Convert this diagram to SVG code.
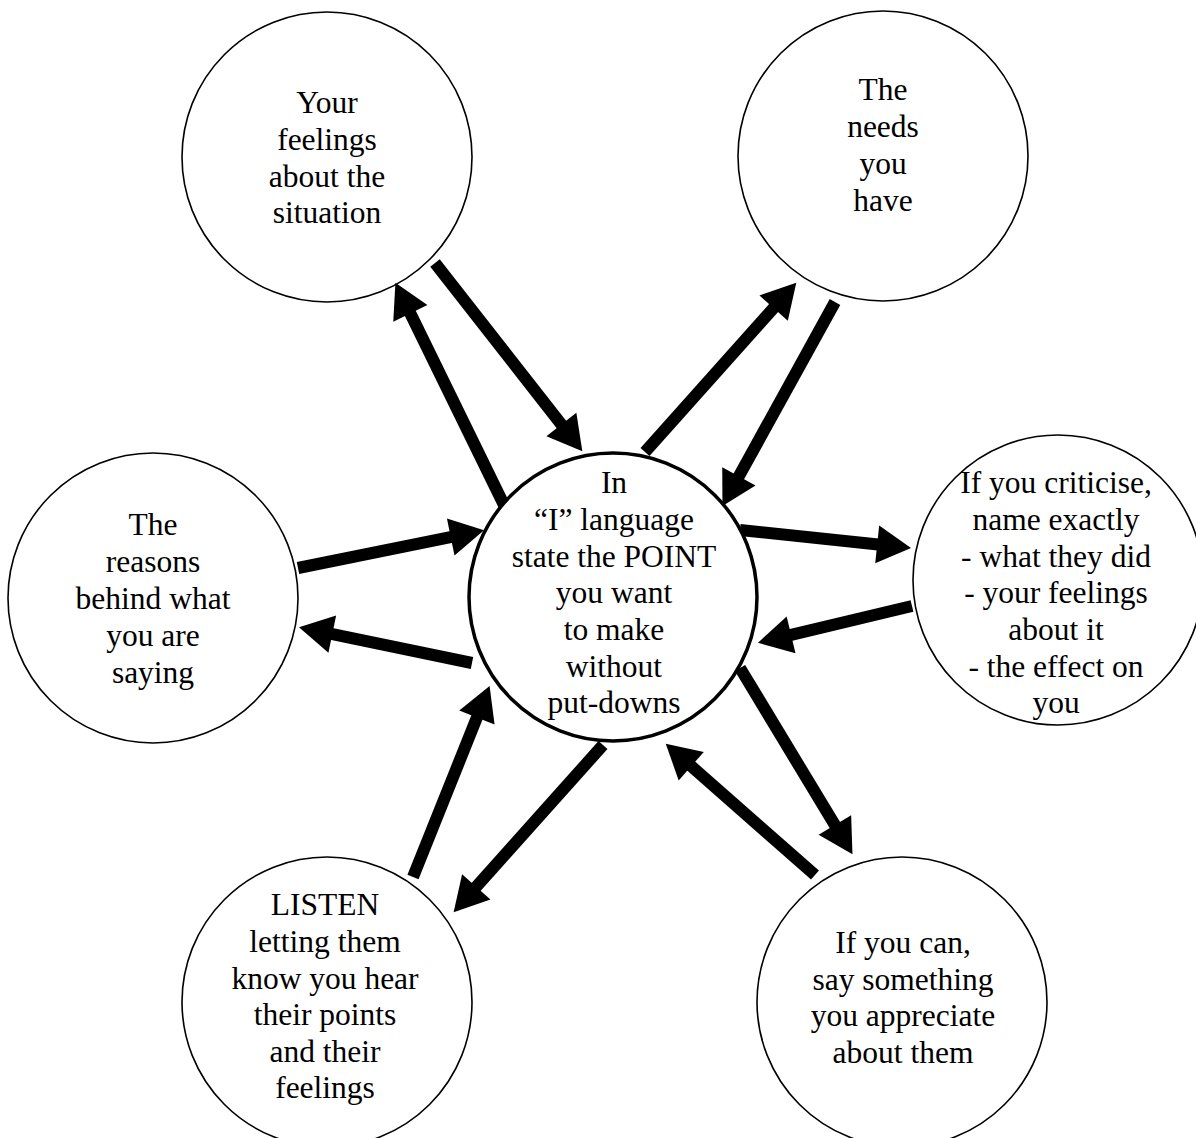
<svg xmlns="http://www.w3.org/2000/svg" width="1196" height="1138" viewBox="0 0 1196 1138">
<style>
.node{fill:#fff;stroke:#000;stroke-width:1.6}
.main{fill:#fff;stroke:#000;stroke-width:3.5}
text{font-family:"Liberation Serif","Times New Roman",serif;font-size:31.5px;fill:#000;text-anchor:middle}
.arr{stroke:#000;stroke-width:12;fill:none;marker-end:url(#ah)}
</style>
<defs>
<marker id="ah" markerUnits="userSpaceOnUse" markerWidth="36" markerHeight="40" viewBox="0 -20 36 40" refX="1" refY="0" orient="auto" overflow="visible">
<path d="M0,-19 L34,0 L0,19 z" fill="#000"/>
</marker>
</defs>
<rect width="1196" height="1138" fill="#fff"/>
<g id="n-feelings">
<circle class="node" cx="327" cy="157" r="145"/>
<text x="327" y="113">Your</text>
<text x="327" y="150">feelings</text>
<text x="327" y="187">about the</text>
<text x="327" y="223">situation</text>
</g>
<g id="n-needs">
<circle class="node" cx="883" cy="156" r="145"/>
<text x="883" y="100">The</text>
<text x="883" y="137">needs</text>
<text x="883" y="174">you</text>
<text x="883" y="211">have</text>
</g>
<g id="n-reasons">
<circle class="node" cx="153" cy="598" r="145"/>
<text x="153" y="535">The</text>
<text x="153" y="572">reasons</text>
<text x="153" y="609">behind what</text>
<text x="153" y="646">you are</text>
<text x="153" y="683">saying</text>
</g>
<g id="n-criticise">
<circle class="node" cx="1058" cy="580" r="145"/>
<text x="1056" y="493">If you criticise,</text>
<text x="1056" y="530">name exactly</text>
<text x="1056" y="567">- what they did</text>
<text x="1056" y="603">- your feelings</text>
<text x="1056" y="640">about it</text>
<text x="1056" y="677">- the effect on</text>
<text x="1056" y="713">you</text>
</g>
<g id="n-listen">
<circle class="node" cx="327" cy="1002" r="145"/>
<text x="325" y="915">LISTEN</text>
<text x="325" y="952">letting them</text>
<text x="325" y="989">know you hear</text>
<text x="325" y="1025">their points</text>
<text x="325" y="1062">and their</text>
<text x="325" y="1098">feelings</text>
</g>
<g id="n-appreciate">
<circle class="node" cx="902" cy="1002" r="145"/>
<text x="903" y="953">If you can,</text>
<text x="903" y="990">say something</text>
<text x="903" y="1026">you appreciate</text>
<text x="903" y="1063">about them</text>
</g>
<g id="connectors">
<line class="arr" x1="435" y1="263" x2="562" y2="425.2"/>
<line class="arr" x1="505" y1="507" x2="409.9" y2="312.5"/>
<line class="arr" x1="645" y1="452" x2="774.3" y2="307.3"/>
<line class="arr" x1="835" y1="302" x2="738.4" y2="477.2"/>
<line class="arr" x1="298" y1="568" x2="451.7" y2="536.8"/>
<line class="arr" x1="472" y1="663" x2="331.3" y2="633.9"/>
<line class="arr" x1="740" y1="530" x2="878.2" y2="544.5"/>
<line class="arr" x1="912" y1="606" x2="790.1" y2="635.1"/>
<line class="arr" x1="740" y1="668" x2="835.4" y2="825.9"/>
<line class="arr" x1="815" y1="875" x2="690.5" y2="765.5"/>
<line class="arr" x1="413" y1="877" x2="477.3" y2="716.6"/>
<line class="arr" x1="603" y1="745" x2="475.6" y2="887.6"/>
</g>
<g id="n-center">
<circle class="main" cx="613" cy="597" r="144"/>
<text x="614" y="493">In</text>
<text x="614" y="530">“I” language</text>
<text x="614" y="567">state the POINT</text>
<text x="614" y="603">you want</text>
<text x="614" y="640">to make</text>
<text x="614" y="677">without</text>
<text x="614" y="713">put-downs</text>
</g>
</svg>
